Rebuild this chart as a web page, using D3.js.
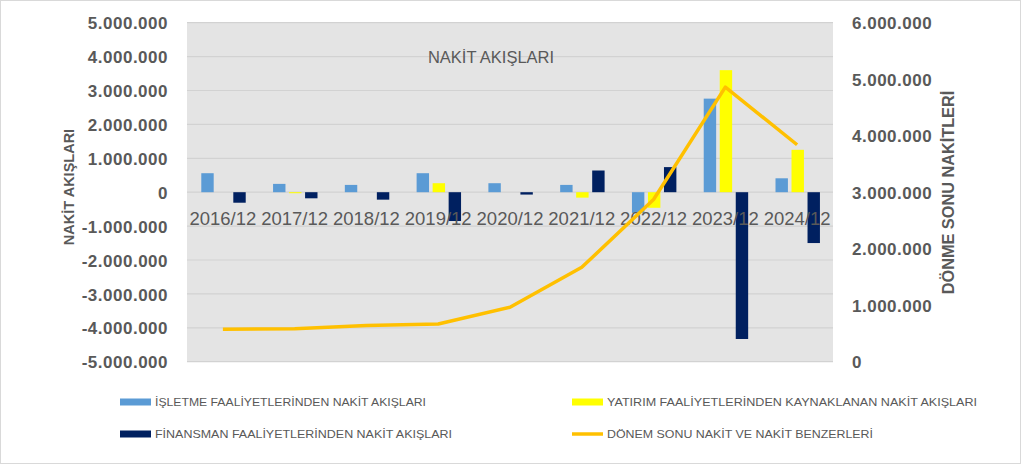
<!DOCTYPE html>
<html><head><meta charset="utf-8">
<script src="https://cdn.jsdelivr.net/npm/d3@7"></script>
<style>
html,body{margin:0;padding:0;background:#fff;}
svg{display:block;font-family:"Liberation Sans",Arial,sans-serif;}
</style></head>
<body>
<svg id="chart" width="1024" height="467"></svg>
<script>
const categories = ["2016/12","2017/12","2018/12","2019/12","2020/12","2021/12","2022/12","2023/12","2024/12"];
const isletme   = [560000, 245000, 215000, 560000, 265000, 215000, -610000, 2760000, 410000];
const yatirim   = [0, -30000, 0, 265000, 0, -160000, -460000, 3600000, 1250000];
const finansman = [-310000, -180000, -220000, -850000, -70000, 640000, 740000, -4330000, -1500000];
const donemSonu = [573000, 585000, 640000, 667000, 963000, 1670000, 2870000, 4860000, 3840000];
const leftTicks  = [-5000000,-4000000,-3000000,-2000000,-1000000,0,1000000,2000000,3000000,4000000,5000000];
const rightTicks = [0,1000000,2000000,3000000,4000000,5000000,6000000];
const seriesNames = ["İŞLETME FAALİYETLERİNDEN NAKİT AKIŞLARI","YATIRIM FAALİYETLERİNDEN KAYNAKLANAN NAKİT AKIŞLARI","FİNANSMAN FAALİYETLERİNDEN NAKİT AKIŞLARI","DÖNEM SONU NAKİT VE NAKİT BENZERLERİ"];
const chartTitle = "NAKİT AKIŞLARI";
const leftTitle = "NAKİT AKIŞLARI";
const rightTitle = "DÖNME SONU NAKİTLERİ";

const colors = {isletme:"#5B9BD5", yatirim:"#FFFF00", finansman:"#002060", line:"#FFC000"};
const textColor = "#595959";

const svg = d3.select("#chart");
const P = {left:187, right:833, top:22.7, bottom:361.7};

const loc = d3.formatLocale({decimal:",", thousands:".", grouping:[3], currency:["",""], minus:"-"});
const fmt = loc.format(",.0f");

const x = d3.scaleBand().domain(categories).range([P.left, P.right]);
const keys = ["isletme","yatirim","finansman"];
const x1 = d3.scaleBand().domain(keys).range([x.bandwidth()*0.199, x.bandwidth()*0.818]).paddingInner(0.225);
const yL = d3.scaleLinear().domain([-5000000,5000000]).range([P.bottom, P.top]);
const yR = d3.scaleLinear().domain([0,6000000]).range([P.bottom, P.top]);

// outer border
svg.append("rect").attr("x",0.5).attr("y",0.5).attr("width",1020).attr("height",463)
  .attr("fill","#fff").attr("stroke","#D9D9D9").attr("stroke-width",1);

// plot background
svg.append("rect").attr("x",P.left).attr("y",P.top).attr("width",P.right-P.left).attr("height",P.bottom-P.top)
  .attr("fill","#E4E4E4");

// gridlines
svg.append("g").selectAll("line").data(leftTicks).join("line")
  .attr("x1",P.left).attr("x2",P.right)
  .attr("y1",d=>yL(d)).attr("y2",d=>yL(d))
  .attr("stroke","#D2D2D2").attr("stroke-width",1.2);

// title
svg.append("text").attr("x",491).attr("y",63).attr("text-anchor","middle")
  .attr("font-size",16.5).attr("fill",textColor).text(chartTitle);

// bars
const data = {isletme, yatirim, finansman};
const gBars = svg.append("g");
keys.forEach(k=>{
  gBars.append("g").selectAll("rect").data(categories.map((c,i)=>({c, v:data[k][i]}))).join("rect")
    .attr("x", d=>x(d.c)+x1(k))
    .attr("width", x1.bandwidth())
    .attr("y", d=>Math.min(yL(d.v), yL(0)))
    .attr("height", d=>Math.abs(yL(d.v)-yL(0)))
    .attr("fill", colors[k]);
});

// category labels (next to zero)
svg.append("g").selectAll("text").data(categories).join("text")
  .attr("x", d=>x(d)+x.bandwidth()/2).attr("y", yL(0)+32.5)
  .attr("text-anchor","middle").attr("font-size",18.5).attr("fill",textColor).text(d=>d);

// left axis labels
const axL = d3.axisLeft(yL).tickValues(leftTicks).tickFormat(fmt).tickSize(0).tickPadding(0);
const gL = svg.append("g").attr("transform",`translate(168,0)`).call(axL);
gL.select(".domain").remove();
gL.selectAll("text").attr("font-size",17).attr("font-weight","bold").attr("fill",textColor)
  .attr("font-family","'Liberation Sans',Arial,sans-serif").attr("letter-spacing",0.5).attr("dy","0.36em");

// right axis labels
const axR = d3.axisRight(yR).tickValues(rightTicks).tickFormat(fmt).tickSize(0).tickPadding(0);
const gR = svg.append("g").attr("transform",`translate(852,0)`).call(axR);
gR.select(".domain").remove();
gR.selectAll("text").attr("font-size",17).attr("font-weight","bold").attr("fill",textColor)
  .attr("font-family","'Liberation Sans',Arial,sans-serif").attr("letter-spacing",0.5).attr("dy","0.36em");

// axis titles
svg.append("text").attr("transform","translate(74,187) rotate(-90)").attr("text-anchor","middle")
  .attr("font-size",14.5).attr("font-weight","bold").attr("fill",textColor).text(leftTitle);
svg.append("text").attr("transform","translate(954,192.5) rotate(-90)").attr("text-anchor","middle")
  .attr("font-size",16.3).attr("font-weight","bold").attr("fill",textColor).text(rightTitle);

// line
const line = d3.line().x((d,i)=>x(categories[i])+x.bandwidth()/2).y(d=>yR(d));
svg.append("path").datum(donemSonu).attr("d",line).attr("fill","none")
  .attr("stroke",colors.line).attr("stroke-width",3.5).attr("stroke-linejoin","round");

// legend
const legendItems = [
  {name:seriesNames[0], color:colors.isletme, type:"rect", x:120, y:402, w:271},
  {name:seriesNames[1], color:colors.yatirim, type:"rect", x:572, y:402, w:370},
  {name:seriesNames[2], color:colors.finansman, type:"rect", x:120, y:434, w:297},
  {name:seriesNames[3], color:colors.line, type:"line", x:572, y:434, w:266}
];
const gLeg = svg.append("g");
legendItems.forEach(it=>{
  if(it.type==="rect"){
    gLeg.append("rect").attr("x",it.x).attr("y",it.y-3.5).attr("width",31).attr("height",7).attr("fill",it.color);
  } else {
    gLeg.append("line").attr("x1",it.x).attr("x2",it.x+31).attr("y1",it.y).attr("y2",it.y)
      .attr("stroke",it.color).attr("stroke-width",3.5);
  }
  gLeg.append("text").attr("x",it.x+35).attr("y",it.y+4).attr("font-size",11.5).attr("fill",textColor)
    .attr("textLength",it.w).attr("lengthAdjust","spacingAndGlyphs").text(it.name);
});
</script>
</body></html>
